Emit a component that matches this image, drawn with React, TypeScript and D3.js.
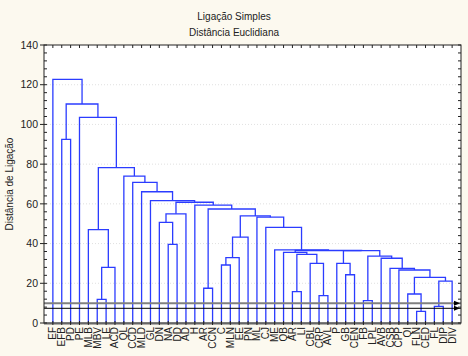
import React from 'react';
import * as d3 from 'd3';

const leafLabels = ["EF","EFB","PD","PE","MLB","MBV","LE","ACD","QL","CCD","MLD","GL","DN","NA","DD","AD","H","AR","CCN","C","MLN","EE","PN","ML","CJ","ME","QB","AR","LI","CBL","CRP","AVL","P","GB","CEN","FB","LPL","AVB","CSB","CPP","QI","FLN","CED","FL","DIP","DIV"];

// linkage: child indices (< 46 leaf, >= 46 earlier merge 46+k)
const mergePairs: [number, number][] = [
  [41,42],[43,44],[35,36],[5,6],[30,31],[40,46],[27,28],[17,18],[47,45],[51,54],
  [33,34],[39,55],[38,57],[49,7],[19,20],[29,50],[32,56],[37,58],[60,21],[48,63],
  [52,61],[26,66],[62,65],[67,68],[25,69],[13,14],[64,22],[4,59],[24,70],[12,71],
  [23,74],[72,76],[75,15],[53,77],[16,79],[78,80],[11,81],[10,82],[9,83],[8,84],
  [73,85],[1,2],[3,86],[87,88],[0,89]
];
const mergeHeights = [
  5.9,8.4,11.3,11.9,13.8,14.6,15.8,17.5,21.1,23.0,
  24.3,26.7,27.5,28.0,29.2,30.0,30.0,32.6,32.9,33.7,
  34.6,35.6,36.4,36.5,36.8,39.6,43.2,47.0,48.2,50.7,
  53.3,53.9,55.0,57.4,59.4,60.8,61.6,66.1,70.8,74.0,
  78.2,92.5,103.6,110.3,122.7
];
const yTicks = [0,20,40,60,80,100,120,140];
const cutLevels = [10.0, 7.4];

const W = 468, H = 356;
const L = 44, R = 461, T = 45, B = 323;
const FONT = '"Liberation Sans", Arial, sans-serif';

export default function App() {
  const y = d3.scaleLinear().domain([0, 140]).range([B, T]);
  const x = d3.scalePoint<number>().domain(d3.range(leafLabels.length)).range([L, R]).padding(1);

  const nodeX: number[] = leafLabels.map((_, i) => x(i) as number);
  const nodeH: number[] = leafLabels.map(() => 0);
  mergePairs.forEach(([a, b], k) => {
    nodeX.push((nodeX[a] + nodeX[b]) / 2);
    nodeH.push(mergeHeights[k]);
  });

  const segs = mergePairs.map(([a, b], k) => {
    const p = d3.path();
    p.moveTo(nodeX[a], y(nodeH[a]));
    p.lineTo(nodeX[a], y(mergeHeights[k]));
    p.lineTo(nodeX[b], y(mergeHeights[k]));
    p.lineTo(nodeX[b], y(nodeH[b]));
    return p.toString();
  });

  const minor = d3.range(0, 141, 4);

  return (
    <svg width={W} height={H} style={{ position: 'absolute', left: 0, top: 0 }} fontFamily={FONT}>
      <rect x={0} y={0} width={W} height={H} fill="#fcf9ef" />
      <text x={234} y={20} textAnchor="middle" fontSize={10} fill="#222">Ligação Simples</text>
      <text x={234} y={36} textAnchor="middle" fontSize={10} fill="#222">Distância Euclidiana</text>
      <rect x={L} y={T} width={R - L} height={B - T} fill="#ffffff" />
      {yTicks.slice(1, -1).map(t => (
        <line key={'g' + t} x1={L} x2={R} y1={y(t)} y2={y(t)} stroke="#d8d8d8" strokeWidth={0.8} strokeDasharray="1,2" />
      ))}
      <g fill="none" stroke="#2b3cff" strokeWidth={1.3}>
        {segs.map((d, i) => <path key={i} d={d} />)}
      </g>
      {/* cut lines */}
      <line x1={L} x2={R} y1={y(cutLevels[0])} y2={y(cutLevels[0])} stroke="#808080" strokeWidth={2} />
      <line x1={L} x2={R} y1={y(cutLevels[1])} y2={y(cutLevels[1])} stroke="#000" strokeWidth={1} />
      {cutLevels.map((c, i) => (
        <path key={'a' + i} d={`M${R - 7},${y(c) - 2.5}L${R - 1},${y(c)}L${R - 7},${y(c) + 2.5}Z`} fill="#000" />
      ))}
      {/* frame */}
      <rect x={L} y={T} width={R - L} height={B - T} fill="none" stroke="#222" strokeWidth={1} />
      <line x1={L} x2={R} y1={B + 0.5} y2={B + 0.5} stroke="#666" strokeWidth={2} />
      {minor.map(t => (
        <g key={'m' + t}>
          <line x1={L} x2={L + 3} y1={y(t)} y2={y(t)} stroke="#222" />
          <line x1={R} x2={R - 3} y1={y(t)} y2={y(t)} stroke="#222" />
        </g>
      ))}
      {yTicks.map(t => (
        <g key={'t' + t}>
          <line x1={L - 4} x2={L} y1={y(t)} y2={y(t)} stroke="#222" />
          <text x={L - 6} y={y(t)} dy="0.35em" textAnchor="end" fontSize={10.5} fill="#222">{t}</text>
        </g>
      ))}
      {leafLabels.map((lab, i) => (
        <g key={'l' + i}>
          <line x1={x(i)} x2={x(i)} y1={T} y2={T + 3} stroke="#222" />
          <line x1={x(i)} x2={x(i)} y1={B - 2} y2={B + 2} stroke="#222" />
          <text transform={`translate(${(x(i) as number) + 3.5},${B + 4}) rotate(-90)`} textAnchor="end" fontSize={10} fill="#222">{lab}</text>
        </g>
      ))}
      <text transform={`translate(13,${(T + B) / 2}) rotate(-90)`} textAnchor="middle" fontSize={10} fill="#222">Distância de Ligação</text>
    </svg>
  );
}
